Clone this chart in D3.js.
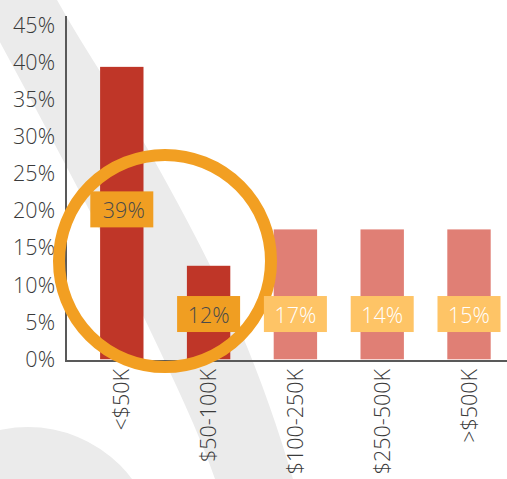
<!DOCTYPE html>
<html>
<head>
<meta charset="utf-8">
<script src="https://cdn.jsdelivr.net/npm/d3@7"></script>
<style>
  html, body { margin: 0; padding: 0; background: #fff; }
  svg { display: block; }
  text { font-family: "Open Sans", "Lato", sans-serif; font-weight: 300; }
</style>
</head>
<body>
<svg id="chart" width="507" height="479"></svg>
<script>
// ---- data ----
const categories = ["<$50K", "$50-100K", "$100-250K", "$250-500K", ">$500K"];
const barValues = [39.4, 12.6, 17.5, 17.5, 17.5];
const labelTexts = ["39%", "12%", "17%", "14%", "15%"];
const highlighted = [true, true, false, false, false];
const yTicks = [0, 5, 10, 15, 20, 25, 30, 35, 40, 45];

// ---- setup ----
const W = 507, H = 479;
const svg = d3.select("#chart");
const FS = 21.5;

const x = d3.scaleBand().domain(categories).range([78.4, 512.4]).paddingInner(0.5).paddingOuter(0.25);
const y = d3.scaleLinear().domain([0, 45]).range([359.3, 25.3]);

const C = {
  bg: "#ebebeb",
  darkBar: "#bf3628",
  lightBar: "#e07f75",
  darkBox: "#f09e22",
  lightBox: "#fec466",
  ring: "#f29f22",
  axis: "#595959",
  text: "#3a3a3a"
};

// ---- background decorations ----
const band = [
  {y: -20, l: -34, r: 46},
  {y: 0, l: -23, r: 57},
  {y: 160, l: 63, r: 154},
  {y: 330, l: 150, r: 240},
  {y: 479, l: 215, r: 293},
  {y: 500, l: 222, r: 299}
];
svg.append("path")
  .attr("d", d3.area().y(d => d.y).x0(d => d.l).x1(d => d.r).curve(d3.curveMonotoneY)(band))
  .attr("fill", C.bg);

svg.append("circle").attr("cx", 28).attr("cy", 557).attr("r", 130).attr("fill", C.bg);

// ---- bars ----
svg.selectAll("rect.bar")
  .data(categories)
  .join("rect")
  .attr("class", "bar")
  .attr("x", d => x(d))
  .attr("width", x.bandwidth())
  .attr("y", (d, i) => y(barValues[i]))
  .attr("height", (d, i) => y(0) - y(barValues[i]))
  .attr("fill", (d, i) => highlighted[i] ? C.darkBar : C.lightBar);

// ---- axes ----
const g = svg.append("g");
g.append("line").attr("x1", 66).attr("x2", 66).attr("y1", 16).attr("y2", 362)
  .attr("stroke", C.axis).attr("stroke-width", 2);
g.append("line").attr("x1", 65).attr("x2", W).attr("y1", 361).attr("y2", 361)
  .attr("stroke", C.axis).attr("stroke-width", 2);

svg.selectAll("text.ytick")
  .data(yTicks)
  .join("text")
  .attr("class", "ytick")
  .attr("x", 55)
  .attr("y", d => y(d))
  .attr("dy", "0.35em")
  .attr("text-anchor", "end")
  .attr("font-size", FS)
  .attr("fill", C.text)
  .text(d => d + "%");

svg.selectAll("text.xtick")
  .data(categories)
  .join("text")
  .attr("class", "xtick")
  .attr("transform", d => `translate(${x(d) + x.bandwidth() / 2},369) rotate(-90)`)
  .attr("dy", "0.35em")
  .attr("text-anchor", "end")
  .attr("font-size", FS)
  .attr("fill", C.text)
  .text(d => d);

// ---- highlight ring ----
svg.append("circle")
  .attr("cx", 165).attr("cy", 261).attr("r", 106)
  .attr("fill", "none").attr("stroke", C.ring).attr("stroke-width", 12);

// ---- value labels ----
const boxW = 63, boxH = 36;
const labelCenter = (i) => i === 0 ? barValues[i] / 2 + 0.5 : 6.1;
const lab = svg.selectAll("g.lab")
  .data(categories)
  .join("g")
  .attr("class", "lab")
  .attr("transform", (d, i) => `translate(${x(d) + x.bandwidth() / 2},${y(labelCenter(i))})`);
lab.append("rect")
  .attr("x", -boxW / 2).attr("y", -boxH / 2).attr("width", boxW).attr("height", boxH)
  .attr("fill", (d, i) => highlighted[i] ? C.darkBox : C.lightBox);
lab.append("text")
  .attr("x", (d, i) => i === 0 ? 2 : 0)
  .attr("y", 1)
  .attr("dy", "0.35em")
  .attr("text-anchor", "middle")
  .attr("font-size", FS)
  .attr("fill", (d, i) => highlighted[i] ? "#4a4a4a" : "#ffffff")
  .text((d, i) => labelTexts[i]);
</script>
</body>
</html>
